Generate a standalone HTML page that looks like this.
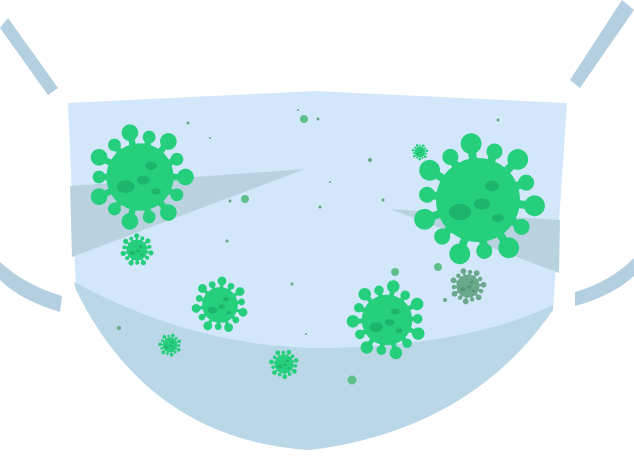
<!DOCTYPE html>
<html><head><meta charset="utf-8"><style>
html,body{margin:0;padding:0;background:#fff;width:634px;height:472px;overflow:hidden}
svg{display:block}
</style></head><body>
<svg id="art" width="634" height="472" viewBox="0 0 634 472" xmlns="http://www.w3.org/2000/svg">
<g fill="#b3cfe0">
<polygon points="0,28 8,18 58,88 48,95"/>
<polygon points="622,0 634,10 580,88 570,80"/>
<path d="M0,262 Q25,285 62,296 L60,312 Q20,300 0,280 Z"/>
<path d="M634,258 Q610,282 575,292 L575,306 Q612,296 634,276 Z"/>
</g>
<path fill="#d3e7fb" d="M68,103 L315,91 L567,103 L553,310 Q470,430 310,450 Q150,440 76,290 Z"/>
<path fill="#b9d7e6" d="M74,282 Q200,350 330,348 Q470,345 553,305 L553,310 Q470,430 310,450 Q150,440 76,290 Z"/>
<polygon fill="#b9d2e0" points="70,186 305,169 72,257"/>
<polygon fill="#b9d2e0" points="390,209 560,220 559,273"/>
<g id="viruses"></g>
<g id="dots"></g>
</svg>
<script>
const vx=[140,478,137,220,387,170,284,420,468];
const vy=[177,200,250,305,320,345,364,152,286];
const vr=[32,40,10,17,24,7,9,5,11];
const vc=['#26cf7c','#26cf7c','#26cf7c','#26cf7c','#26cf7c','#26cf7c','#26cf7c','#26cf7c','#6aa88b'];
const dx=[188,304,318,298,370,330,245,230,227,320,395,438,383,292,119,352,445,498,306,210];
const dy=[123,119,119,110,160,182,199,201,241,207,272,267,200,284,328,380,300,120,334,138];
const dr=[1.5,4,1.5,1,2,1,4,1.5,1.5,1.5,4,4,1.5,1.5,2,4.5,2,1.5,1,1];
const NS='http://www.w3.org/2000/svg';
const vg=document.getElementById('viruses');
vx.forEach((x,i)=>{
  const r=vr[i],g=document.createElementNS(NS,'g');
  
  
  g.setAttribute('fill',vc[i]);
  const n=14;
  for(let k=0;k<n;k++){
    const a=k/n*Math.PI*2+i;
    const L=r*(k%2?1.28:1.42);
    const st=document.createElementNS(NS,'line');
    st.setAttribute('x1',x);st.setAttribute('y1',vy[i]);
    st.setAttribute('x2',x+Math.cos(a)*L);st.setAttribute('y2',vy[i]+Math.sin(a)*L);
    st.setAttribute('stroke',vc[i]);st.setAttribute('stroke-width',Math.max(1,r*0.2));
    g.appendChild(st);
    const b=document.createElementNS(NS,'circle');
    b.setAttribute('cx',x+Math.cos(a)*L);b.setAttribute('cy',vy[i]+Math.sin(a)*L);
    b.setAttribute('r',Math.max(1,r*(k%2?0.2:0.26)));
    g.appendChild(b);
  }
  const c=document.createElementNS(NS,'circle');
  c.setAttribute('cx',x);c.setAttribute('cy',vy[i]);c.setAttribute('r',r*1.05);
  g.appendChild(c);
  [[-0.45,0.3,0.28,0.2],[0.35,-0.35,0.18,0.13],[0.1,0.1,0.2,0.14],[0.5,0.45,0.15,0.1]].forEach(s=>{
    const e=document.createElementNS(NS,'ellipse');
    e.setAttribute('cx',x+s[0]*r);e.setAttribute('cy',vy[i]+s[1]*r);
    e.setAttribute('rx',s[2]*r);e.setAttribute('ry',s[3]*r);
    e.setAttribute('fill','rgba(0,90,50,0.22)');
    g.appendChild(e);
  });
  vg.appendChild(g);
});
const dg=document.getElementById('dots');
dx.forEach((x,i)=>{
  const c=document.createElementNS(NS,'circle');
  
  
  c.setAttribute('cx',x);c.setAttribute('cy',dy[i]);c.setAttribute('r',dr[i]);
  c.setAttribute('fill',dr[i]>3?'#5fbf8a':'#6aa88b');
  dg.appendChild(c);
});
</script>
</body></html>
